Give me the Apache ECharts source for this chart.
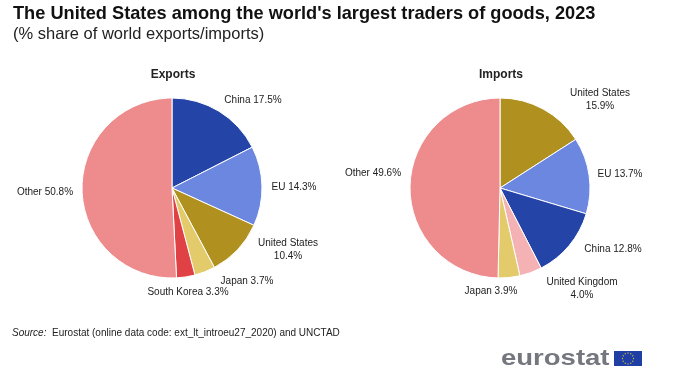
<!DOCTYPE html>
<html>
<head>
<meta charset="utf-8">
<style>html,body{margin:0;padding:0;background:#fff}#c{width:700px;height:380px}</style>
<script src="https://cdn.jsdelivr.net/npm/echarts@6/dist/echarts.min.js"></script>
</head>
<body>
<div id="c"></div>
<script>
const exportNames = ['China', 'EU', 'United States', 'Japan', 'South Korea', 'Other'];
const exportValues = [17.5, 14.3, 10.4, 3.7, 3.3, 50.8];
const importNames = ['United States', 'EU', 'China', 'United Kingdom', 'Japan', 'Other'];
const importValues = [15.9, 13.7, 12.8, 4.0, 3.9, 49.6];
const colours = {
  'China': '#2544A8', 'EU': '#6C87E0', 'United States': '#B0901F', 'Japan': '#E3CB6C',
  'South Korea': '#E04144', 'United Kingdom': '#F4B2B4', 'Other': '#EE8C8D'
};
const exportLabelAt = [[253, 100], [294, 187], [288, 250], [247, 281], [188, 292], [45, 192]];
const importLabelAt = [[600, 100], [620, 174], [613, 249], [582, 289], [491, 291], [373, 173]];
const twoLines = {'exports': ['United States'], 'imports': ['United States', 'United Kingdom']};

function pie(names, values, cx, at, key) {
  return {
    type: 'pie', center: [cx, 188], radius: [0, 90], startAngle: 90, clockwise: true, animation: false,
    silent: true, minAngle: 0, avoidLabelOverlap: false,
    data: names.map((n, i) => ({name: n, value: values[i], itemStyle: {color: colours[n]}})),
    itemStyle: {borderColor: '#fff', borderWidth: 1},
    label: {
      show: true, position: 'outside', color: '#222', fontFamily: 'Liberation Sans', fontSize: 10,
      lineHeight: 13, align: 'center',
      formatter: p => p.name + (twoLines[key].includes(p.name) ? '\n' : ' ') + p.value.toFixed(1) + '%'
    },
    labelLine: {show: false},
    labelLayout: p => ({x: at[p.dataIndex][0], y: at[p.dataIndex][1], align: 'center', verticalAlign: 'middle'})
  };
}

const stars = [];
for (let a = 0; a < 12; a++) {
  stars.push({
    type: 'circle', silent: true,
    shape: {cx: 628 + 5.5 * Math.cos(a * Math.PI / 6), cy: 358.5 + 5.5 * Math.sin(a * Math.PI / 6), r: 0.7},
    style: {fill: '#C9B83F'}
  });
}

const chart = echarts.init(document.getElementById('c'), null, {renderer: 'canvas'});
chart.setOption({
  backgroundColor: '#fff',
  animation: false,
  series: [
    pie(exportNames, exportValues, 172, exportLabelAt, 'exports'),
    pie(importNames, importValues, 500, importLabelAt, 'imports')
  ],
  graphic: [
    {type: 'text', left: 13, top: 5, silent: true, style: {text: "The United States among the world's largest traders of goods, 2023", font: 'bold 18.2px "Liberation Sans"', fill: '#111'}},
    {type: 'text', left: 13, top: 26, silent: true, style: {text: '(% share of world exports/imports)', font: '16.5px "Liberation Sans"', fill: '#222'}},
    {type: 'text', x: 173, y: 75, silent: true, style: {text: 'Exports', font: 'bold 12px "Liberation Sans"', fill: '#222', align: 'center', verticalAlign: 'middle'}},
    {type: 'text', x: 501, y: 75, silent: true, style: {text: 'Imports', font: 'bold 12px "Liberation Sans"', fill: '#222', align: 'center', verticalAlign: 'middle'}},
    {type: 'text', left: 12, top: 328, silent: true, style: {
      rich: {i: {fontStyle: 'italic', fontFamily: 'Liberation Sans', fontSize: 10, fill: '#222'}, n: {fontFamily: 'Liberation Sans', fontSize: 10, fill: '#222'}},
      text: '{i|Source:}{n|  Eurostat (online data code: ext_lt_introeu27_2020) and UNCTAD}'}},
    {type: 'text', x: 501, y: 358.5, scaleX: 1.25, silent: true, style: {text: 'eurostat', font: 'bold 22px "Liberation Sans"', fill: '#74777E', verticalAlign: 'middle'}},
    {type: 'rect', silent: true, shape: {x: 614, y: 351, width: 28, height: 15}, style: {fill: '#1F3FA5'}},
    ...stars
  ]
});
</script>
</body>
</html>
